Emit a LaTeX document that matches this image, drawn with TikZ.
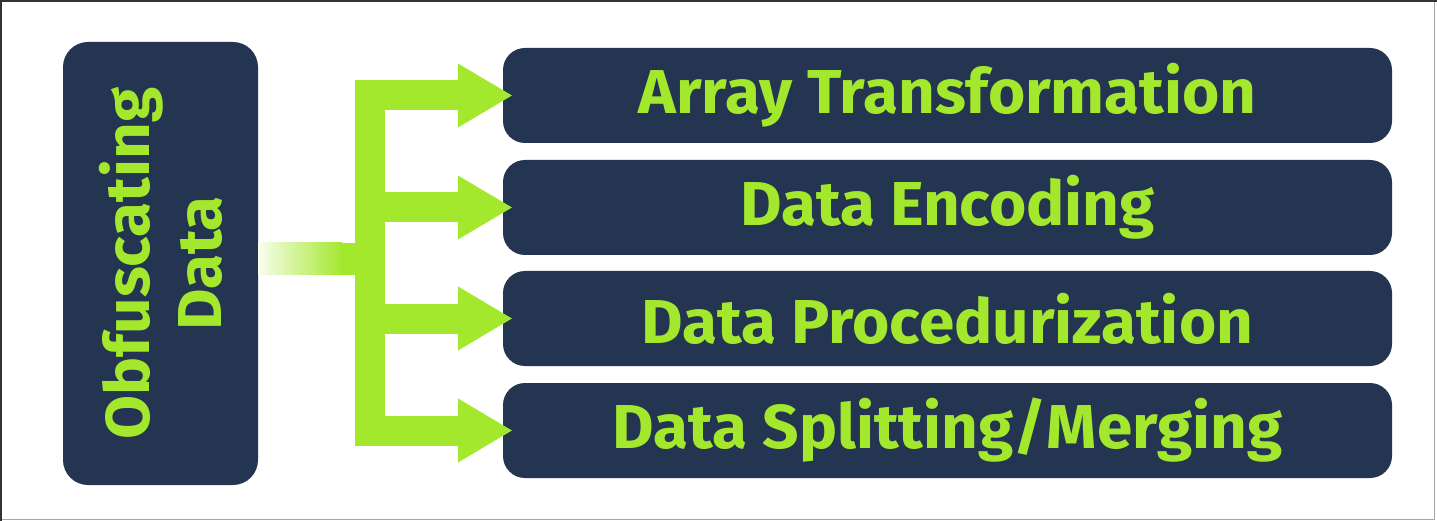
\documentclass[tikz,border=0pt]{standalone}
\usepackage{fontspec}
\setmainfont{Fira Sans}
\newfontfamily\labelfont[FakeStretch=1.03]{Fira Sans}
\usetikzlibrary{arrows.meta}
\definecolor{navy}{RGB}{35,53,80}
\definecolor{lime}{RGB}{164,232,46}
\begin{document}
\begin{tikzpicture}[x=1pt,y=-1pt,
  itembox/.style={fill=navy, rounded corners=22pt, minimum width=889pt, minimum height=95pt,
    inner sep=0pt, text=lime, font=\labelfont\bfseries\fontsize{62}{72}\selectfont},
  srcbox/.style={fill=navy, rounded corners=25pt, minimum width=195pt, minimum height=443pt, inner sep=0pt},
  srctext/.style={rotate=90, text=lime, align=center, font=\labelfont\bfseries\fontsize{62}{72}\selectfont},
  branch/.style={draw=lime, line width=30pt, -{Triangle[length=55pt,width=60pt]}}]
\useasboundingbox (0,0) rectangle (1437,521);
\fill[white] (0,0) rectangle (1437,521);
\draw[line width=1pt, black!35] (1434.5,0) -- (1434.5,519.5) -- (0,519.5);
\draw[line width=2pt, black!80] (0,1) -- (1437,1);
\draw[line width=1.5pt, black!80] (0.75,0) -- (0.75,521);

\node[srcbox] (src) at (160.5,263.5) {};
\node[srctext] (srclabel) at (src.center) {Obfuscating\\Data};

\node[itembox] (a1) at (947.5,95.5) {Array Transformation};
\node[itembox] (a2) at (947.5,207.5) {Data Encoding};
\node[itembox] (a3) at (947.5,318.5) {Data Procedurization};
\node[itembox] (a4) at (947.5,430.5) {Data Splitting/Merging};

% incoming faded bar
\shade[left color=lime!8, right color=lime] (src.east |- 0,243) rectangle (342,275);
\fill[lime] (341,243) rectangle (356,275);
% vertical trunk
\fill[lime] (355,80.5) rectangle (385,445.5);
% branches
\foreach \n in {a1,a2,a3,a4}{
  \draw[branch] (\n.west -| 355,0) -- ([xshift=10pt]\n.west);
}
\end{tikzpicture}
\end{document}
